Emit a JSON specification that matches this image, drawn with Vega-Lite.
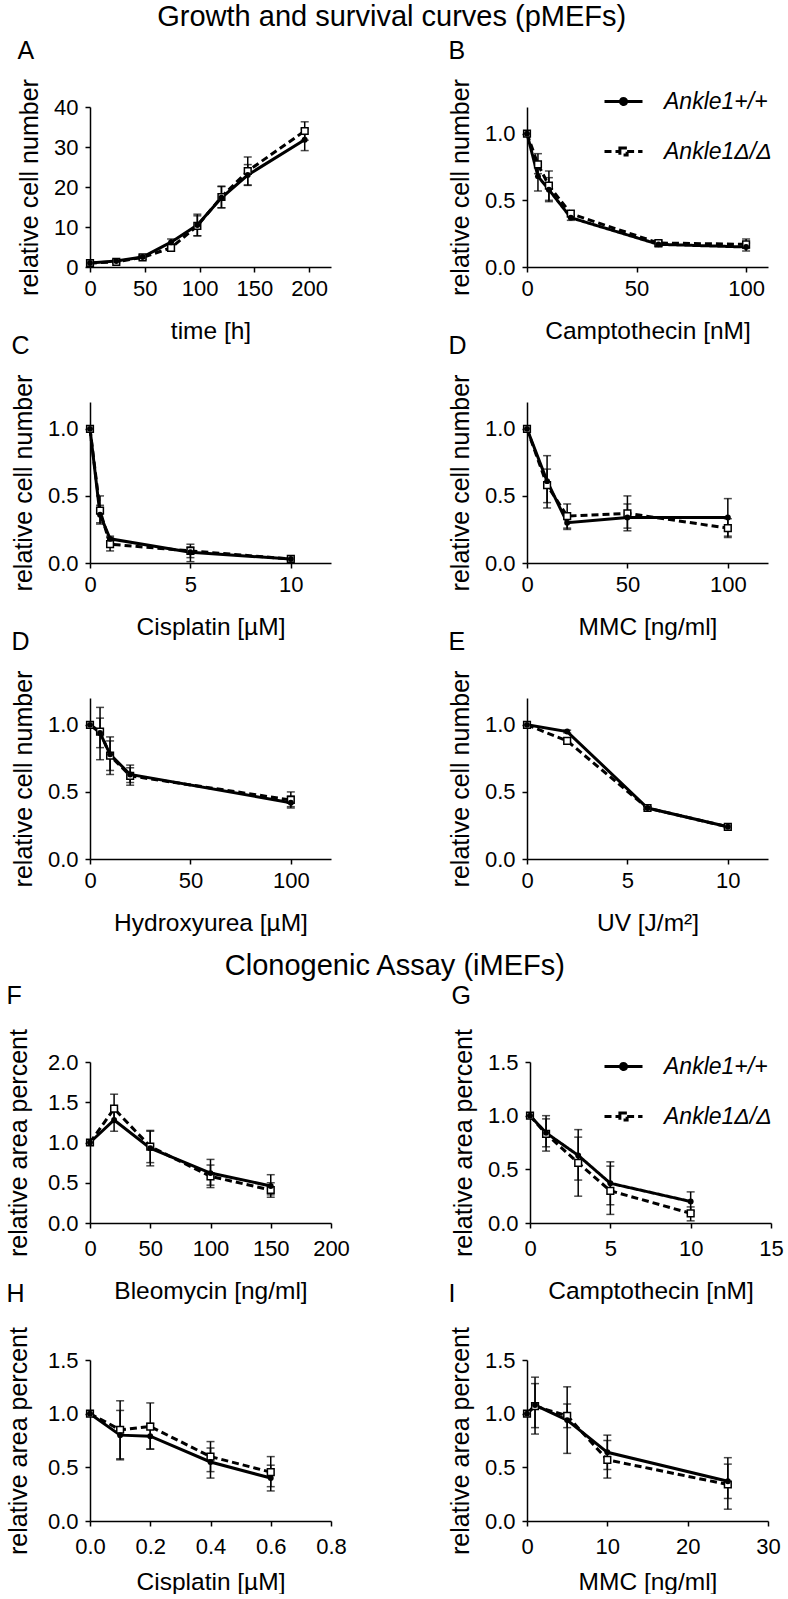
{
  "$schema": "https://vega.github.io/schema/vega-lite/v6.json",
  "background": "white",
  "padding": {"left": 6, "top": 2, "right": 0, "bottom": 0},
  "datasets": {
    "A": [
      {"x":0,"y":1.0,"lo":0.7,"hi":1.3,"g":"wt"},{"x":24,"y":1.5,"lo":1.2,"hi":1.8,"g":"wt"},{"x":48,"y":2.5,"lo":2.0,"hi":3.0,"g":"wt"},{"x":74,"y":6.2,"lo":5.4,"hi":7.0,"g":"wt"},{"x":98,"y":10.5,"lo":7.8,"hi":13.2,"g":"wt"},{"x":120,"y":17.3,"lo":14.8,"hi":20.1,"g":"wt"},{"x":144,"y":23.0,"lo":20.4,"hi":25.6,"g":"wt"},{"x":196,"y":31.8,"lo":29.1,"hi":34.5,"g":"wt"},
      {"x":0,"y":1.0,"lo":0.7,"hi":1.3,"g":"del"},{"x":24,"y":1.3,"lo":1.0,"hi":1.6,"g":"del"},{"x":48,"y":2.4,"lo":1.9,"hi":2.9,"g":"del"},{"x":74,"y":4.8,"lo":4.0,"hi":5.6,"g":"del"},{"x":98,"y":10.3,"lo":7.8,"hi":12.8,"g":"del"},{"x":120,"y":17.5,"lo":14.8,"hi":20.2,"g":"del"},{"x":144,"y":24.0,"lo":20.5,"hi":27.5,"g":"del"},{"x":196,"y":34.0,"lo":31.7,"hi":36.3,"g":"del"}
    ],
    "B": [
      {"x":0,"y":1,"lo":1,"hi":1,"g":"wt"},{"x":5,"y":0.68,"lo":0.57,"hi":0.79,"g":"wt"},{"x":10,"y":0.58,"lo":0.49,"hi":0.67,"g":"wt"},{"x":20,"y":0.37,"lo":0.35,"hi":0.39,"g":"wt"},{"x":60,"y":0.17,"lo":0.15,"hi":0.19,"g":"wt"},{"x":100,"y":0.15,"lo":0.12,"hi":0.18,"g":"wt"},
      {"x":0,"y":1,"lo":1,"hi":1,"g":"del"},{"x":5,"y":0.77,"lo":0.70,"hi":0.85,"g":"del"},{"x":10,"y":0.61,"lo":0.50,"hi":0.72,"g":"del"},{"x":20,"y":0.40,"lo":0.38,"hi":0.42,"g":"del"},{"x":60,"y":0.18,"lo":0.16,"hi":0.20,"g":"del"},{"x":100,"y":0.17,"lo":0.14,"hi":0.21,"g":"del"}
    ],
    "C": [
      {"x":0,"y":1,"lo":1,"hi":1,"g":"wt"},{"x":0.5,"y":0.36,"lo":0.29,"hi":0.43,"g":"wt"},{"x":1,"y":0.18,"lo":0.16,"hi":0.20,"g":"wt"},{"x":5,"y":0.08,"lo":0.01,"hi":0.12,"g":"wt"},{"x":10,"y":0.03,"lo":0.02,"hi":0.04,"g":"wt"},
      {"x":0,"y":1,"lo":1,"hi":1,"g":"del"},{"x":0.5,"y":0.39,"lo":0.30,"hi":0.50,"g":"del"},{"x":1,"y":0.14,"lo":0.09,"hi":0.19,"g":"del"},{"x":5,"y":0.09,"lo":0.04,"hi":0.14,"g":"del"},{"x":10,"y":0.03,"lo":0.02,"hi":0.04,"g":"del"}
    ],
    "D": [
      {"x":0,"y":1,"lo":1,"hi":1,"g":"wt"},{"x":10,"y":0.61,"lo":0.41,"hi":0.80,"g":"wt"},{"x":20,"y":0.30,"lo":0.25,"hi":0.35,"g":"wt"},{"x":50,"y":0.34,"lo":0.24,"hi":0.44,"g":"wt"},{"x":100,"y":0.34,"lo":0.20,"hi":0.48,"g":"wt"},
      {"x":0,"y":1,"lo":1,"hi":1,"g":"del"},{"x":10,"y":0.58,"lo":0.45,"hi":0.70,"g":"del"},{"x":20,"y":0.35,"lo":0.26,"hi":0.44,"g":"del"},{"x":50,"y":0.37,"lo":0.26,"hi":0.50,"g":"del"},{"x":100,"y":0.26,"lo":0.19,"hi":0.33,"g":"del"}
    ],
    "HU": [
      {"x":0,"y":1,"lo":1,"hi":1,"g":"wt"},{"x":5,"y":0.94,"lo":0.74,"hi":1.13,"g":"wt"},{"x":10,"y":0.78,"lo":0.63,"hi":0.91,"g":"wt"},{"x":20,"y":0.63,"lo":0.57,"hi":0.70,"g":"wt"},{"x":100,"y":0.42,"lo":0.38,"hi":0.47,"g":"wt"},
      {"x":0,"y":1,"lo":1,"hi":1,"g":"del"},{"x":5,"y":0.95,"lo":0.83,"hi":1.05,"g":"del"},{"x":10,"y":0.77,"lo":0.66,"hi":0.88,"g":"del"},{"x":20,"y":0.62,"lo":0.55,"hi":0.68,"g":"del"},{"x":100,"y":0.44,"lo":0.39,"hi":0.50,"g":"del"}
    ],
    "E": [
      {"x":0,"y":1,"lo":0.99,"hi":1.01,"g":"wt"},{"x":2,"y":0.95,"lo":0.94,"hi":0.96,"g":"wt"},{"x":6,"y":0.38,"lo":0.37,"hi":0.39,"g":"wt"},{"x":10,"y":0.24,"lo":0.23,"hi":0.25,"g":"wt"},
      {"x":0,"y":1,"lo":0.99,"hi":1.01,"g":"del"},{"x":2,"y":0.88,"lo":0.87,"hi":0.90,"g":"del"},{"x":6,"y":0.38,"lo":0.37,"hi":0.39,"g":"del"},{"x":10,"y":0.24,"lo":0.23,"hi":0.25,"g":"del"}
    ],
    "F": [
      {"x":0,"y":1,"lo":1,"hi":1,"g":"wt"},{"x":20,"y":1.28,"lo":1.14,"hi":1.42,"g":"wt"},{"x":50,"y":0.93,"lo":0.71,"hi":1.15,"g":"wt"},{"x":100,"y":0.62,"lo":0.44,"hi":0.79,"g":"wt"},{"x":150,"y":0.46,"lo":0.32,"hi":0.60,"g":"wt"},
      {"x":0,"y":1,"lo":1,"hi":1,"g":"del"},{"x":20,"y":1.42,"lo":1.25,"hi":1.60,"g":"del"},{"x":50,"y":0.95,"lo":0.75,"hi":1.14,"g":"del"},{"x":100,"y":0.58,"lo":0.47,"hi":0.72,"g":"del"},{"x":150,"y":0.41,"lo":0.35,"hi":0.50,"g":"del"}
    ],
    "G": [
      {"x":0,"y":1,"lo":1,"hi":1,"g":"wt"},{"x":1,"y":0.84,"lo":0.71,"hi":0.97,"g":"wt"},{"x":3,"y":0.63,"lo":0.40,"hi":0.87,"g":"wt"},{"x":5,"y":0.37,"lo":0.17,"hi":0.57,"g":"wt"},{"x":10,"y":0.20,"lo":0.11,"hi":0.29,"g":"wt"},
      {"x":0,"y":1,"lo":1,"hi":1,"g":"del"},{"x":1,"y":0.83,"lo":0.67,"hi":1.0,"g":"del"},{"x":3,"y":0.56,"lo":0.25,"hi":0.80,"g":"del"},{"x":5,"y":0.30,"lo":0.08,"hi":0.53,"g":"del"},{"x":10,"y":0.09,"lo":0.02,"hi":0.15,"g":"del"}
    ],
    "H": [
      {"x":0,"y":1,"lo":1,"hi":1,"g":"wt"},{"x":0.1,"y":0.80,"lo":0.57,"hi":1.03,"g":"wt"},{"x":0.2,"y":0.79,"lo":0.67,"hi":0.91,"g":"wt"},{"x":0.4,"y":0.55,"lo":0.40,"hi":0.68,"g":"wt"},{"x":0.6,"y":0.40,"lo":0.28,"hi":0.52,"g":"wt"},
      {"x":0,"y":1,"lo":1,"hi":1,"g":"del"},{"x":0.1,"y":0.85,"lo":0.58,"hi":1.12,"g":"del"},{"x":0.2,"y":0.88,"lo":0.67,"hi":1.10,"g":"del"},{"x":0.4,"y":0.60,"lo":0.46,"hi":0.74,"g":"del"},{"x":0.6,"y":0.455,"lo":0.32,"hi":0.60,"g":"del"}
    ],
    "I": [
      {"x":0,"y":1,"lo":1,"hi":1,"g":"wt"},{"x":1,"y":1.08,"lo":0.81,"hi":1.34,"g":"wt"},{"x":5,"y":0.94,"lo":0.63,"hi":1.25,"g":"wt"},{"x":10,"y":0.64,"lo":0.48,"hi":0.80,"g":"wt"},{"x":25,"y":0.37,"lo":0.11,"hi":0.59,"g":"wt"},
      {"x":0,"y":1,"lo":1,"hi":1,"g":"del"},{"x":1,"y":1.07,"lo":0.87,"hi":1.28,"g":"del"},{"x":5,"y":0.98,"lo":0.87,"hi":1.09,"g":"del"},{"x":10,"y":0.57,"lo":0.40,"hi":0.75,"g":"del"},{"x":25,"y":0.34,"lo":0.21,"hi":0.53,"g":"del"}
    ]
  },
  "vconcat": [
    {
      "title": {"text": "Growth and survival curves (pMEFs)", "fontSize": 29, "anchor": "middle", "offset": 7},
      "spacing": -9,
      "resolve": {"scale": {"strokeDash": "independent"}},
      "vconcat": [
        {
          "spacing": 117,
          "resolve": {"scale": {"strokeDash": "independent"}},
          "hconcat": [
            {
              "width": 241, "height": 160, "title": {"text": "A", "offset": 15}, "data": {"name": "A"},
              "encoding": {
                "x": {"field": "x", "type": "quantitative", "title": "time [h]", "scale": {"domain": [0, 220], "nice": false}, "axis": {"values": [0, 50, 100, 150, 200]}},
                "y": {"field": "y", "type": "quantitative", "title": "relative cell number", "scale": {"domain": [0, 40], "nice": false}, "axis": {"values": [0, 10, 20, 30, 40]}}
              },
              "layer": [
                {"mark": {"type": "errorbar", "ticks": true, "size": 8, "thickness": 1.5, "color": "black"}, "encoding": {"y": {"field": "lo", "type": "quantitative", "title": "relative cell number"}, "y2": {"field": "hi"}}},
                {"transform": [{"filter": "datum.g == 'del'"}], "mark": {"type": "line", "color": "black", "strokeWidth": 3, "strokeDash": [7, 4]}},
                {"transform": [{"filter": "datum.g == 'wt'"}], "mark": {"type": "line", "color": "black", "strokeWidth": 3}},
                {"transform": [{"filter": "datum.g == 'del'"}], "mark": {"type": "point", "shape": "square", "filled": true, "fill": "white", "stroke": "black", "strokeWidth": 1.5, "size": 45, "opacity": 1}},
                {"transform": [{"filter": "datum.g == 'wt'"}], "mark": {"type": "point", "shape": "circle", "filled": true, "color": "black", "size": 35, "opacity": 1}}
              ]
            },
            {
              "width": 241, "height": 160, "title": {"text": "B", "offset": 15}, "data": {"name": "B"},
              "encoding": {
                "x": {"field": "x", "type": "quantitative", "title": "Camptothecin [nM]", "scale": {"domain": [0, 110], "nice": false}, "axis": {"values": [0, 50, 100]}},
                "y": {"field": "y", "type": "quantitative", "title": "relative cell number", "scale": {"domain": [0, 1.2], "nice": false}, "axis": {"values": [0, 0.5, 1], "format": ".1f"}}
              },
              "layer": [
                {"mark": {"type": "errorbar", "ticks": true, "size": 8, "thickness": 1.5, "color": "black"}, "encoding": {"y": {"field": "lo", "type": "quantitative", "title": "relative cell number"}, "y2": {"field": "hi"}}},
                {"mark": {"type": "line", "color": "black", "strokeWidth": 3},
                 "encoding": {"strokeDash": {"field": "g", "type": "nominal", "scale": {"domain": ["wt", "del"], "range": [[1, 0], [7, 4]]},
                   "legend": {"orient": "none", "legendX": 76, "legendY": -26, "title": null,
                     "labelExpr": "datum.value == 'wt' ? 'Ankle1+/+' : 'Ankle1Δ/Δ'",
                     "labelFontStyle": "italic", "labelFontSize": 23, "labelColor": "black", "labelOffset": 20,
                     "symbolSize": 1444, "symbolStrokeWidth": 3, "symbolStrokeColor": "black", "rowPadding": 17,
                     "encode": {"symbols": {"update": {
                       "shape": [{"test": "datum.value == 'wt'", "value": "M-1,0H1M-0.16,0A0.16,0.16 0 1,0 0.16,0A0.16,0.16 0 1,0 -0.16,0Z"}, {"value": "M-1,0H-0.19M0.19,0H1M-0.19,-0.19H0.19V0.19H-0.19Z"}],
                       "fill": [{"test": "datum.value == 'wt'", "value": "black"}, {"value": "white"}],
                       "stroke": {"value": "black"}}}}}}}},
                {"transform": [{"filter": "datum.g == 'del'"}], "mark": {"type": "point", "shape": "square", "filled": true, "fill": "white", "stroke": "black", "strokeWidth": 1.5, "size": 45, "opacity": 1}},
                {"transform": [{"filter": "datum.g == 'wt'"}], "mark": {"type": "point", "shape": "circle", "filled": true, "color": "black", "size": 35, "opacity": 1}}
              ]
            }
          ]
        },
        {
          "spacing": 117,
          "hconcat": [
            {
              "width": 241, "height": 161, "title": {"text": "C", "offset": 15}, "data": {"name": "C"},
              "encoding": {
                "x": {"field": "x", "type": "quantitative", "title": "Cisplatin [µM]", "scale": {"domain": [0, 12], "nice": false}, "axis": {"values": [0, 5, 10]}},
                "y": {"field": "y", "type": "quantitative", "title": "relative cell number", "scale": {"domain": [0, 1.2], "nice": false}, "axis": {"values": [0, 0.5, 1], "format": ".1f"}}
              },
              "layer": [
                {"mark": {"type": "errorbar", "ticks": true, "size": 8, "thickness": 1.5, "color": "black"}, "encoding": {"y": {"field": "lo", "type": "quantitative", "title": "relative cell number"}, "y2": {"field": "hi"}}},
                {"transform": [{"filter": "datum.g == 'del'"}], "mark": {"type": "line", "color": "black", "strokeWidth": 3, "strokeDash": [7, 4]}},
                {"transform": [{"filter": "datum.g == 'wt'"}], "mark": {"type": "line", "color": "black", "strokeWidth": 3}},
                {"transform": [{"filter": "datum.g == 'del'"}], "mark": {"type": "point", "shape": "square", "filled": true, "fill": "white", "stroke": "black", "strokeWidth": 1.5, "size": 45, "opacity": 1}},
                {"transform": [{"filter": "datum.g == 'wt'"}], "mark": {"type": "point", "shape": "circle", "filled": true, "color": "black", "size": 35, "opacity": 1}}
              ]
            },
            {
              "width": 241, "height": 161, "title": {"text": "D", "offset": 15}, "data": {"name": "D"},
              "encoding": {
                "x": {"field": "x", "type": "quantitative", "title": "MMC [ng/ml]", "scale": {"domain": [0, 120], "nice": false}, "axis": {"values": [0, 50, 100]}},
                "y": {"field": "y", "type": "quantitative", "title": "relative cell number", "scale": {"domain": [0, 1.2], "nice": false}, "axis": {"values": [0, 0.5, 1], "format": ".1f"}}
              },
              "layer": [
                {"mark": {"type": "errorbar", "ticks": true, "size": 8, "thickness": 1.5, "color": "black"}, "encoding": {"y": {"field": "lo", "type": "quantitative", "title": "relative cell number"}, "y2": {"field": "hi"}}},
                {"transform": [{"filter": "datum.g == 'del'"}], "mark": {"type": "line", "color": "black", "strokeWidth": 3, "strokeDash": [7, 4]}},
                {"transform": [{"filter": "datum.g == 'wt'"}], "mark": {"type": "line", "color": "black", "strokeWidth": 3}},
                {"transform": [{"filter": "datum.g == 'del'"}], "mark": {"type": "point", "shape": "square", "filled": true, "fill": "white", "stroke": "black", "strokeWidth": 1.5, "size": 45, "opacity": 1}},
                {"transform": [{"filter": "datum.g == 'wt'"}], "mark": {"type": "point", "shape": "circle", "filled": true, "color": "black", "size": 35, "opacity": 1}}
              ]
            }
          ]
        },
        {
          "spacing": 117,
          "hconcat": [
            {
              "width": 241, "height": 161, "title": {"text": "D", "offset": 15}, "data": {"name": "HU"},
              "encoding": {
                "x": {"field": "x", "type": "quantitative", "title": "Hydroxyurea [µM]", "scale": {"domain": [0, 120], "nice": false}, "axis": {"values": [0, 50, 100]}},
                "y": {"field": "y", "type": "quantitative", "title": "relative cell number", "scale": {"domain": [0, 1.2], "nice": false}, "axis": {"values": [0, 0.5, 1], "format": ".1f"}}
              },
              "layer": [
                {"mark": {"type": "errorbar", "ticks": true, "size": 8, "thickness": 1.5, "color": "black"}, "encoding": {"y": {"field": "lo", "type": "quantitative", "title": "relative cell number"}, "y2": {"field": "hi"}}},
                {"transform": [{"filter": "datum.g == 'del'"}], "mark": {"type": "line", "color": "black", "strokeWidth": 3, "strokeDash": [7, 4]}},
                {"transform": [{"filter": "datum.g == 'wt'"}], "mark": {"type": "line", "color": "black", "strokeWidth": 3}},
                {"transform": [{"filter": "datum.g == 'del'"}], "mark": {"type": "point", "shape": "square", "filled": true, "fill": "white", "stroke": "black", "strokeWidth": 1.5, "size": 45, "opacity": 1}},
                {"transform": [{"filter": "datum.g == 'wt'"}], "mark": {"type": "point", "shape": "circle", "filled": true, "color": "black", "size": 35, "opacity": 1}}
              ]
            },
            {
              "width": 241, "height": 161, "title": {"text": "E", "offset": 15}, "data": {"name": "E"},
              "encoding": {
                "x": {"field": "x", "type": "quantitative", "title": "UV [J/m²]", "scale": {"domain": [0, 12], "nice": false}, "axis": {"values": [0, 5, 10]}},
                "y": {"field": "y", "type": "quantitative", "title": "relative cell number", "scale": {"domain": [0, 1.2], "nice": false}, "axis": {"values": [0, 0.5, 1], "format": ".1f"}}
              },
              "layer": [
                {"mark": {"type": "errorbar", "ticks": true, "size": 8, "thickness": 1.5, "color": "black"}, "encoding": {"y": {"field": "lo", "type": "quantitative", "title": "relative cell number"}, "y2": {"field": "hi"}}},
                {"transform": [{"filter": "datum.g == 'del'"}], "mark": {"type": "line", "color": "black", "strokeWidth": 3, "strokeDash": [7, 4]}},
                {"transform": [{"filter": "datum.g == 'wt'"}], "mark": {"type": "line", "color": "black", "strokeWidth": 3}},
                {"transform": [{"filter": "datum.g == 'del'"}], "mark": {"type": "point", "shape": "square", "filled": true, "fill": "white", "stroke": "black", "strokeWidth": 1.5, "size": 45, "opacity": 1}},
                {"transform": [{"filter": "datum.g == 'wt'"}], "mark": {"type": "point", "shape": "circle", "filled": true, "color": "black", "size": 35, "opacity": 1}}
              ]
            }
          ]
        }
      ]
    },
    {
      "title": {"text": "Clonogenic Assay (iMEFs)", "fontSize": 29, "anchor": "middle", "offset": 3},
      "spacing": -22,
      "resolve": {"scale": {"strokeDash": "independent"}},
      "vconcat": [
        {
          "spacing": 101,
          "resolve": {"scale": {"strokeDash": "independent"}},
          "hconcat": [
            {
              "width": 241, "height": 161, "title": {"text": "F", "offset": 12, "dy": -8}, "data": {"name": "F"},
              "encoding": {
                "x": {"field": "x", "type": "quantitative", "title": "Bleomycin [ng/ml]", "scale": {"domain": [0, 200], "nice": false}, "axis": {"values": [0, 50, 100, 150, 200], "labelPadding": 10, "titlePadding": 20}},
                "y": {"field": "y", "type": "quantitative", "title": "relative area percent", "scale": {"domain": [0, 2], "nice": false}, "axis": {"values": [0, 0.5, 1, 1.5, 2], "format": ".1f", "titlePadding": 16}}
              },
              "layer": [
                {"mark": {"type": "errorbar", "ticks": true, "size": 8, "thickness": 1.5, "color": "black"}, "encoding": {"y": {"field": "lo", "type": "quantitative", "title": "relative area percent"}, "y2": {"field": "hi"}}},
                {"transform": [{"filter": "datum.g == 'del'"}], "mark": {"type": "line", "color": "black", "strokeWidth": 3, "strokeDash": [7, 4]}},
                {"transform": [{"filter": "datum.g == 'wt'"}], "mark": {"type": "line", "color": "black", "strokeWidth": 3}},
                {"transform": [{"filter": "datum.g == 'del'"}], "mark": {"type": "point", "shape": "square", "filled": true, "fill": "white", "stroke": "black", "strokeWidth": 1.5, "size": 45, "opacity": 1}},
                {"transform": [{"filter": "datum.g == 'wt'"}], "mark": {"type": "point", "shape": "circle", "filled": true, "color": "black", "size": 35, "opacity": 1}}
              ]
            },
            {
              "width": 241, "height": 161, "title": {"text": "G", "offset": 12, "dy": -8}, "data": {"name": "G"},
              "encoding": {
                "x": {"field": "x", "type": "quantitative", "title": "Camptothecin [nM]", "scale": {"domain": [0, 15], "nice": false}, "axis": {"values": [0, 5, 10, 15], "labelPadding": 10, "titlePadding": 20}},
                "y": {"field": "y", "type": "quantitative", "title": "relative area percent", "scale": {"domain": [0, 1.5], "nice": false}, "axis": {"values": [0, 0.5, 1, 1.5], "format": ".1f"}}
              },
              "layer": [
                {"mark": {"type": "errorbar", "ticks": true, "size": 8, "thickness": 1.5, "color": "black"}, "encoding": {"y": {"field": "lo", "type": "quantitative", "title": "relative area percent"}, "y2": {"field": "hi"}}},
                {"mark": {"type": "line", "color": "black", "strokeWidth": 3},
                 "encoding": {"strokeDash": {"field": "g", "type": "nominal", "scale": {"domain": ["wt", "del"], "range": [[1, 0], [7, 4]]},
                   "legend": {"orient": "none", "legendX": 73, "legendY": -16, "title": null,
                     "labelExpr": "datum.value == 'wt' ? 'Ankle1+/+' : 'Ankle1Δ/Δ'",
                     "labelFontStyle": "italic", "labelFontSize": 23, "labelColor": "black", "labelOffset": 20,
                     "symbolSize": 1444, "symbolStrokeWidth": 3, "symbolStrokeColor": "black", "rowPadding": 17,
                     "encode": {"symbols": {"update": {
                       "shape": [{"test": "datum.value == 'wt'", "value": "M-1,0H1M-0.16,0A0.16,0.16 0 1,0 0.16,0A0.16,0.16 0 1,0 -0.16,0Z"}, {"value": "M-1,0H-0.19M0.19,0H1M-0.19,-0.19H0.19V0.19H-0.19Z"}],
                       "fill": [{"test": "datum.value == 'wt'", "value": "black"}, {"value": "white"}],
                       "stroke": {"value": "black"}}}}}}}},
                {"transform": [{"filter": "datum.g == 'del'"}], "mark": {"type": "point", "shape": "square", "filled": true, "fill": "white", "stroke": "black", "strokeWidth": 1.5, "size": 45, "opacity": 1}},
                {"transform": [{"filter": "datum.g == 'wt'"}], "mark": {"type": "point", "shape": "circle", "filled": true, "color": "black", "size": 35, "opacity": 1}}
              ]
            }
          ]
        },
        {
          "spacing": 101,
          "hconcat": [
            {
              "width": 241, "height": 161, "title": {"text": "H", "offset": 12, "dy": -8}, "data": {"name": "H"},
              "encoding": {
                "x": {"field": "x", "type": "quantitative", "title": "Cisplatin [µM]", "scale": {"domain": [0, 0.8], "nice": false}, "axis": {"values": [0, 0.2, 0.4, 0.6, 0.8], "format": ".1f", "labelPadding": 10, "titlePadding": 13}},
                "y": {"field": "y", "type": "quantitative", "title": "relative area percent", "scale": {"domain": [0, 1.5], "nice": false}, "axis": {"values": [0, 0.5, 1, 1.5], "format": ".1f", "titlePadding": 16}}
              },
              "layer": [
                {"mark": {"type": "errorbar", "ticks": true, "size": 8, "thickness": 1.5, "color": "black"}, "encoding": {"y": {"field": "lo", "type": "quantitative", "title": "relative area percent"}, "y2": {"field": "hi"}}},
                {"transform": [{"filter": "datum.g == 'del'"}], "mark": {"type": "line", "color": "black", "strokeWidth": 3, "strokeDash": [7, 4]}},
                {"transform": [{"filter": "datum.g == 'wt'"}], "mark": {"type": "line", "color": "black", "strokeWidth": 3}},
                {"transform": [{"filter": "datum.g == 'del'"}], "mark": {"type": "point", "shape": "square", "filled": true, "fill": "white", "stroke": "black", "strokeWidth": 1.5, "size": 45, "opacity": 1}},
                {"transform": [{"filter": "datum.g == 'wt'"}], "mark": {"type": "point", "shape": "circle", "filled": true, "color": "black", "size": 35, "opacity": 1}}
              ]
            },
            {
              "width": 241, "height": 161, "title": {"text": "I", "offset": 12, "dy": -8}, "data": {"name": "I"},
              "encoding": {
                "x": {"field": "x", "type": "quantitative", "title": "MMC [ng/ml]", "scale": {"domain": [0, 30], "nice": false}, "axis": {"values": [0, 10, 20, 30], "labelPadding": 10, "titlePadding": 13}},
                "y": {"field": "y", "type": "quantitative", "title": "relative area percent", "scale": {"domain": [0, 1.5], "nice": false}, "axis": {"values": [0, 0.5, 1, 1.5], "format": ".1f"}}
              },
              "layer": [
                {"mark": {"type": "errorbar", "ticks": true, "size": 8, "thickness": 1.5, "color": "black"}, "encoding": {"y": {"field": "lo", "type": "quantitative", "title": "relative area percent"}, "y2": {"field": "hi"}}},
                {"transform": [{"filter": "datum.g == 'del'"}], "mark": {"type": "line", "color": "black", "strokeWidth": 3, "strokeDash": [7, 4]}},
                {"transform": [{"filter": "datum.g == 'wt'"}], "mark": {"type": "line", "color": "black", "strokeWidth": 3}},
                {"transform": [{"filter": "datum.g == 'del'"}], "mark": {"type": "point", "shape": "square", "filled": true, "fill": "white", "stroke": "black", "strokeWidth": 1.5, "size": 45, "opacity": 1}},
                {"transform": [{"filter": "datum.g == 'wt'"}], "mark": {"type": "point", "shape": "circle", "filled": true, "color": "black", "size": 35, "opacity": 1}}
              ]
            }
          ]
        }
      ]
    }
  ],
  "spacing": 16,
  "resolve": {"scale": {"strokeDash": "independent"}},
  "config": {
    "font": "Liberation Sans",
    "view": {"stroke": null},
    "axis": {"grid": false, "domainColor": "black", "domainWidth": 1.5, "tickColor": "black", "tickWidth": 1.5, "tickSize": 5,
      "labelFont": "Liberation Sans", "labelFontSize": 22, "labelColor": "black", "labelFlush": false, "labelOverlap": false,
      "titleFont": "Liberation Sans", "titleFontWeight": "normal", "titleColor": "black"},
    "axisX": {"labelPadding": 6, "titlePadding": 20, "titleFontSize": 24.5},
    "axisY": {"labelPadding": 7, "titlePadding": 11, "titleFontSize": 25},
    "legend": {"labelFont": "Liberation Sans"},
    "title": {"font": "Liberation Sans", "fontSize": 25, "fontWeight": "normal", "anchor": "start", "frame": "bounds", "color": "black", "offset": 9}
  }
}
